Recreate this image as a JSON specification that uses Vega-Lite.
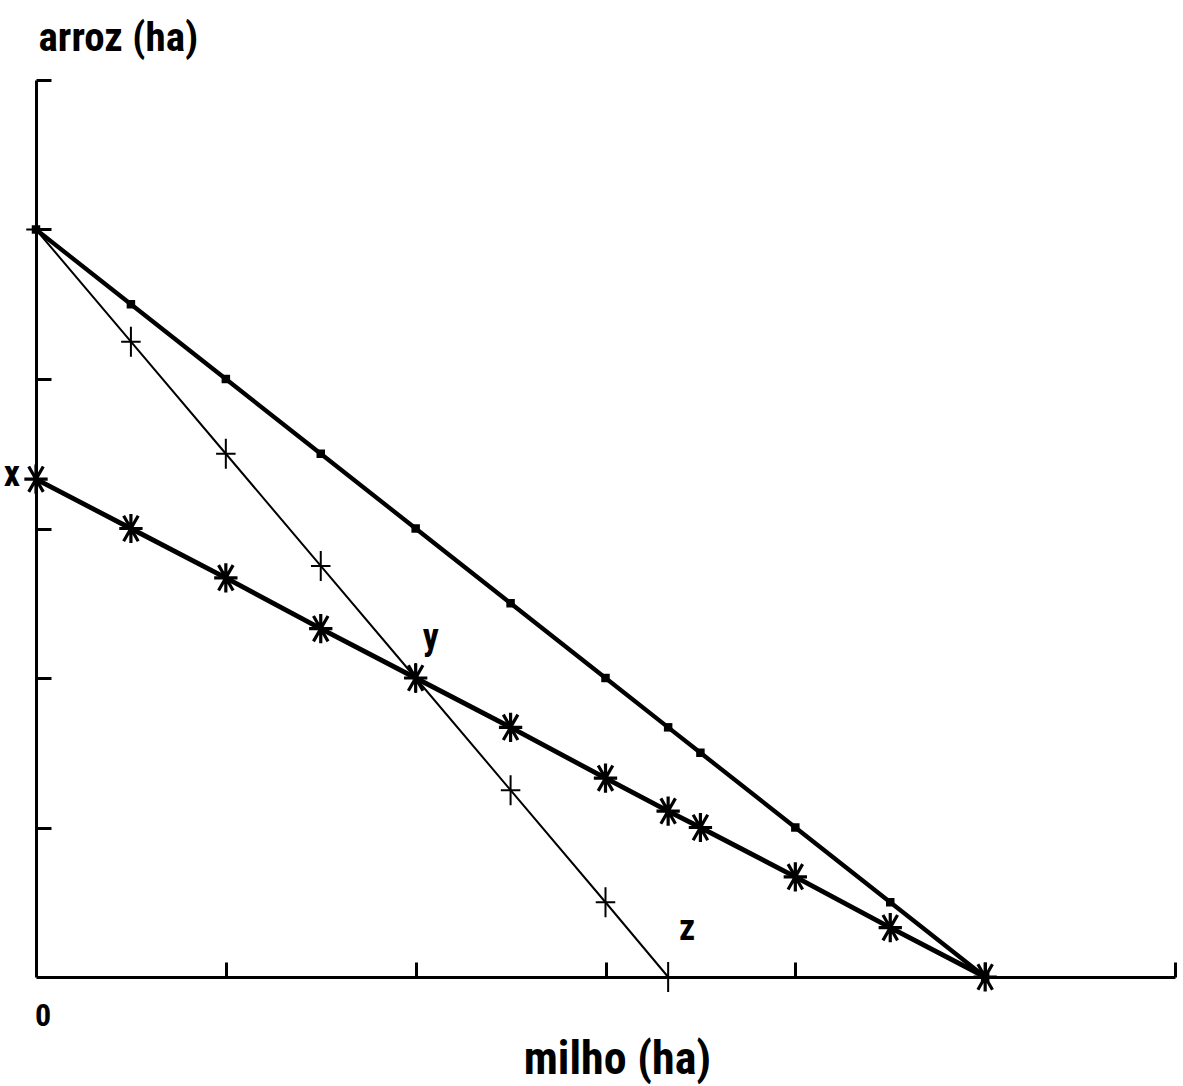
{
  "$schema": "https://vega.github.io/schema/vega-lite/v6.json",
  "width": 1139,
  "height": 897,
  "autosize": "none",
  "padding": {"left": 36, "top": 80, "right": 8, "bottom": 109},
  "background": "white",
  "config": {
    "view": {"stroke": null},
    "font": "'Roboto Condensed', 'Liberation Sans Narrow', 'Arial Narrow', 'DejaVu Sans Condensed', sans-serif"
  },
  "data": {
    "values": [
      {"serie": "a", "milho": 0, "arroz": 5},
      {"serie": "a", "milho": 0.5, "arroz": 4.5},
      {"serie": "a", "milho": 1, "arroz": 4},
      {"serie": "a", "milho": 1.5, "arroz": 3.5},
      {"serie": "a", "milho": 2, "arroz": 3},
      {"serie": "a", "milho": 2.5, "arroz": 2.5},
      {"serie": "a", "milho": 3, "arroz": 2},
      {"serie": "a", "milho": 3.33, "arroz": 1.67},
      {"serie": "a", "milho": 3.5, "arroz": 1.5},
      {"serie": "a", "milho": 4, "arroz": 1},
      {"serie": "a", "milho": 4.5, "arroz": 0.5},
      {"serie": "a", "milho": 5, "arroz": 0},
      {"serie": "b", "milho": 0, "arroz": 5},
      {"serie": "b", "milho": 0.5, "arroz": 4.25},
      {"serie": "b", "milho": 1, "arroz": 3.5},
      {"serie": "b", "milho": 1.5, "arroz": 2.75},
      {"serie": "b", "milho": 2, "arroz": 2},
      {"serie": "b", "milho": 2.5, "arroz": 1.25},
      {"serie": "b", "milho": 3, "arroz": 0.5},
      {"serie": "b", "milho": 3.33, "arroz": 0},
      {"serie": "c", "milho": 0, "arroz": 3.33},
      {"serie": "c", "milho": 0.5, "arroz": 3},
      {"serie": "c", "milho": 1, "arroz": 2.67},
      {"serie": "c", "milho": 1.5, "arroz": 2.33},
      {"serie": "c", "milho": 2, "arroz": 2},
      {"serie": "c", "milho": 2.5, "arroz": 1.67},
      {"serie": "c", "milho": 3, "arroz": 1.33},
      {"serie": "c", "milho": 3.33, "arroz": 1.11},
      {"serie": "c", "milho": 3.5, "arroz": 1},
      {"serie": "c", "milho": 4, "arroz": 0.67},
      {"serie": "c", "milho": 4.5, "arroz": 0.33},
      {"serie": "c", "milho": 5, "arroz": 0}
    ]
  },
  "encoding": {
    "x": {
      "field": "milho",
      "type": "quantitative",
      "scale": {"domain": [0, 6], "nice": false, "zero": true},
      "axis": {
        "values": [1, 2, 3, 4, 5, 6],
        "labels": false,
        "grid": false,
        "tickSize": -15,
        "tickWidth": 3,
        "tickColor": "black",
        "domainColor": "black",
        "domainWidth": 3,
        "title": "milho (ha)",
        "titleFontSize": 46,
        "titleFontWeight": "bold",
        "titleColor": "black",
        "titleAlign": "center",
        "titleBaseline": "alphabetic",
        "titleX": 581,
        "titleY": 96
      }
    },
    "y": {
      "field": "arroz",
      "type": "quantitative",
      "scale": {"domain": [0, 6], "nice": false, "zero": true},
      "axis": {
        "values": [1, 2, 3, 4, 5, 6],
        "labels": false,
        "grid": false,
        "tickSize": -15,
        "tickWidth": 3,
        "tickColor": "black",
        "domainColor": "black",
        "domainWidth": 3,
        "title": "arroz (ha)",
        "titleAngle": 0,
        "titleFontSize": 41,
        "titleFontWeight": "bold",
        "titleColor": "black",
        "titleAlign": "left",
        "titleBaseline": "alphabetic",
        "titleX": 2,
        "titleY": -30
      }
    }
  },
  "layer": [
    {
      "transform": [{"filter": "datum.serie == 'a'"}],
      "mark": {"type": "line", "color": "black", "strokeWidth": 4.3}
    },
    {
      "transform": [{"filter": "datum.serie == 'b'"}],
      "mark": {"type": "line", "color": "black", "strokeWidth": 2}
    },
    {
      "transform": [{"filter": "datum.serie == 'c'"}],
      "mark": {"type": "line", "color": "black", "strokeWidth": 4.8}
    },
    {
      "transform": [{"filter": "datum.serie == 'a'"}],
      "mark": {"type": "square", "color": "black", "size": 72, "opacity": 1}
    },
    {
      "transform": [{"filter": "datum.serie == 'b'"}],
      "mark": {
        "type": "point",
        "shape": "M-0.65,0L0.65,0M0,-1L0,1",
        "size": 900,
        "filled": false,
        "stroke": "black",
        "strokeWidth": 2,
        "opacity": 1
      }
    },
    {
      "transform": [{"filter": "datum.serie == 'c'"}],
      "mark": {
        "type": "point",
        "shape": "M0,-1L0,1M-0.8,0L0.8,0M-0.5,-0.87L0.5,0.87M-0.5,0.87L0.5,-0.87",
        "size": 850,
        "filled": false,
        "stroke": "black",
        "strokeWidth": 3.2,
        "opacity": 1
      }
    },
    {
      "data": {"values": [{"milho": 0, "arroz": 3.33, "rotulo": "x"}]},
      "mark": {"type": "text", "fontSize": 36, "fontWeight": "bold", "color": "black", "align": "center", "baseline": "middle", "dx": -24, "dy": -4},
      "encoding": {"text": {"field": "rotulo"}}
    },
    {
      "data": {"values": [{"milho": 2, "arroz": 2, "rotulo": "y"}]},
      "mark": {"type": "text", "fontSize": 36, "fontWeight": "bold", "color": "black", "align": "center", "baseline": "middle", "dx": 15, "dy": -40},
      "encoding": {"text": {"field": "rotulo"}}
    },
    {
      "data": {"values": [{"milho": 3.33, "arroz": 0, "rotulo": "z"}]},
      "mark": {"type": "text", "fontSize": 36, "fontWeight": "bold", "color": "black", "align": "center", "baseline": "middle", "dx": 19, "dy": -48},
      "encoding": {"text": {"field": "rotulo"}}
    },
    {
      "data": {"values": [{"milho": 0, "arroz": 0, "rotulo": "0"}]},
      "mark": {"type": "text", "fontSize": 32, "fontWeight": "bold", "color": "black", "align": "center", "baseline": "middle", "dx": 7, "dy": 39},
      "encoding": {"text": {"field": "rotulo"}}
    }
  ]
}
